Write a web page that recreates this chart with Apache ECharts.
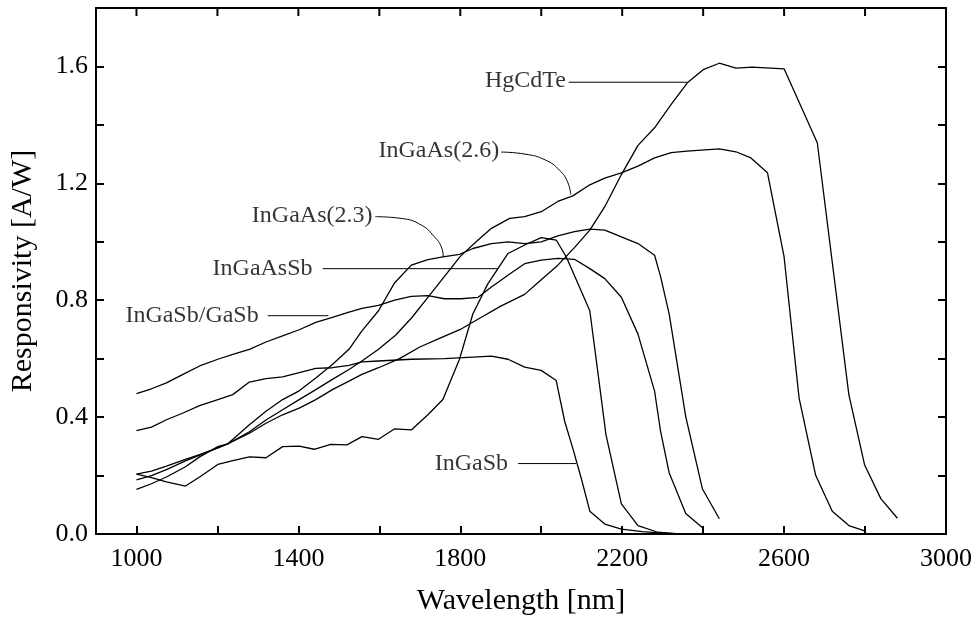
<!DOCTYPE html>
<html>
<head>
<meta charset="utf-8">
<script src="https://cdn.jsdelivr.net/npm/echarts@6/dist/echarts.min.js"></script>
<style>
html,body{margin:0;padding:0;background:#fff;}
#chart{width:976px;height:621px;}
</style>
</head>
<body>
<div id="chart"></div>
<script>
// ---- data (wavelength in nm, responsivity in A/W) ----
const hgcdteX = [1000,1037,1074,1121,1156,1201,1225,1279,1320,1361,1402,1443,1484,1525,1557,1598,1650,1700,1750,1800,1850,1900,1959,2000,2041,2082,2120,2157,2198,2239,2280,2321,2361,2400,2440,2481,2522,2600,2682,2760,2799,2839,2880];
const hgcdteY = [0.205,0.215,0.232,0.255,0.272,0.295,0.308,0.345,0.379,0.408,0.431,0.46,0.494,0.523,0.546,0.569,0.6,0.64,0.67,0.70,0.74,0.78,0.82,0.87,0.92,0.98,1.04,1.12,1.23,1.33,1.39,1.47,1.544,1.589,1.611,1.594,1.598,1.592,1.339,0.477,0.236,0.121,0.054];

const ingaas26X = [1000,1037,1074,1121,1156,1201,1225,1279,1320,1361,1402,1443,1484,1525,1557,1598,1640,1680,1720,1760,1800,1844,1877,1922,1959,2000,2041,2078,2120,2157,2198,2239,2280,2321,2360,2440,2481,2518,2559,2600,2637,2678,2719,2760,2799];
const ingaas26Y = [0.185,0.2,0.22,0.25,0.27,0.295,0.308,0.35,0.39,0.425,0.46,0.494,0.529,0.563,0.592,0.632,0.68,0.74,0.81,0.88,0.95,1.006,1.046,1.08,1.086,1.103,1.138,1.157,1.195,1.218,1.236,1.259,1.287,1.305,1.31,1.318,1.308,1.287,1.236,0.948,0.466,0.201,0.078,0.029,0.011];

const ingaas23X = [1000,1037,1074,1121,1156,1201,1225,1279,1320,1361,1402,1443,1484,1525,1557,1598,1638,1679,1720,1757,1798,1831,1877,1918,1959,2000,2041,2082,2120,2157,2198,2239,2280,2295,2316,2357,2398,2440];
const ingaas23Y = [0.153,0.172,0.195,0.23,0.264,0.299,0.308,0.374,0.42,0.46,0.49,0.534,0.58,0.632,0.695,0.764,0.86,0.92,0.939,0.948,0.957,0.977,0.994,1.0,0.994,1.0,1.02,1.035,1.043,1.04,1.017,0.994,0.954,0.88,0.753,0.402,0.155,0.052];

const ingaassbX = [1000,1037,1074,1121,1156,1201,1238,1279,1320,1361,1402,1439,1480,1520,1557,1598,1638,1679,1720,1757,1798,1831,1868,1918,1959,2000,2037,2062,2120,2140,2160,2198,2239,2288,2340];
const ingaassbY = [0.205,0.193,0.178,0.164,0.195,0.238,0.251,0.264,0.261,0.299,0.301,0.29,0.307,0.305,0.333,0.324,0.36,0.356,0.408,0.46,0.598,0.753,0.856,0.96,0.989,1.014,1.006,0.948,0.764,0.552,0.339,0.103,0.029,0.006,0.0];

const ingasbGasbX = [1000,1037,1074,1115,1156,1201,1238,1279,1320,1361,1402,1443,1484,1525,1557,1598,1638,1679,1720,1761,1802,1844,1877,1922,1959,2000,2041,2082,2120,2157,2198,2239,2280,2295,2316,2357,2400];
const ingasbGasbY = [0.48,0.497,0.517,0.546,0.575,0.598,0.615,0.632,0.657,0.678,0.699,0.724,0.741,0.759,0.772,0.782,0.8,0.813,0.816,0.805,0.805,0.81,0.845,0.89,0.925,0.937,0.943,0.94,0.908,0.874,0.81,0.684,0.489,0.35,0.21,0.07,0.02];

const ingasbX = [1000,1037,1074,1115,1156,1201,1238,1279,1320,1361,1402,1443,1484,1525,1557,1598,1679,1761,1877,1918,1959,2000,2037,2058,2078,2099,2120,2157,2198,2250,2300,2350];
const ingasbY = [0.354,0.366,0.391,0.414,0.439,0.46,0.477,0.52,0.532,0.538,0.552,0.567,0.569,0.577,0.589,0.592,0.598,0.6,0.609,0.598,0.571,0.56,0.525,0.385,0.293,0.19,0.078,0.034,0.017,0.008,0.003,0.0];

// axis ticks / labels
const xTickValues = [1000,1200,1400,1600,1800,2000,2200,2400,2600,2800];
const xLabelValues = [1000,1400,1800,2200,2600,3000];
const yLabelValues = [0.0,0.4,0.8,1.2,1.6];
const yTop = 1.8;

// annotations: label text, text anchor [nm, value], pointer path
const annotations = [
  {name:'HgCdTe', at:[2061,1.552], path:[[2068,1.546],[2361,1.546]]},
  {name:'InGaAs(2.6)', at:[1896,1.31], path:[[1901,1.307],[1960,1.300],[2010,1.280],[2045,1.245],[2065,1.205],[2073,1.161]]},
  {name:'InGaAs(2.3)', at:[1583,1.088], path:[[1590,1.086],[1654,1.080],[1704,1.057],[1736,1.017],[1753,0.983],[1758,0.948]]},
  {name:'InGaAsSb', at:[1435,0.908], path:[[1460,0.908],[1893,0.908]]},
  {name:'InGaSb/GaSb', at:[1302,0.747], path:[[1324,0.747],[1474,0.747]]},
  {name:'InGaSb', at:[1918,0.241], path:[[1943,0.241],[2086,0.241]]}
];

function zip(xs, ys){ return xs.map((x,i)=>[x, ys[i]]); }

const FONT = '"Liberation Serif","Times New Roman",serif';
const chart = echarts.init(document.getElementById('chart'), null, {renderer:'canvas'});

const curveStyle = {color:'#000', width:1.3};
const curves = [
  [hgcdteX,hgcdteY],[ingaas26X,ingaas26Y],[ingaas23X,ingaas23Y],
  [ingaassbX,ingaassbY],[ingasbGasbX,ingasbGasbY],[ingasbX,ingasbY]
].map(([xs,ys])=>({
  type:'line', data:zip(xs,ys), showSymbol:false, symbol:'none',
  lineStyle:curveStyle, itemStyle:{color:'#000'}, animation:false, z:3,
  emphasis:{disabled:true}
}));

const pointerSeries = annotations.map(a=>({
  type:'line', data:a.path, showSymbol:false, symbol:'none', smooth: a.path.length>2 ? 0.5 : false,
  lineStyle:{color:'#000', width:1}, animation:false, z:2, emphasis:{disabled:true}
}));

const labelSeries = {
  type:'scatter', symbolSize:0, animation:false, z:4,
  data: annotations.map(a=>({value:a.at, name:a.name})),
  label:{show:true, position:'left', distance:0, formatter:p=>p.name,
         fontFamily:FONT, fontSize:24, color:'#000'},
  emphasis:{disabled:true}
};

const axisLineStyle = {show:true, onZero:false, lineStyle:{color:'#000', width:2}};
const tickStyle = {show:true, inside:true, length:8, lineStyle:{color:'#000', width:2}};

chart.setOption({
  backgroundColor:'#fff',
  animation:false,
  grid:{left:94, right:30, top:8, bottom:84},
  xAxis:[
    {type:'value', min:900, max:3000, position:'bottom',
     axisLine:axisLineStyle,
     axisTick:Object.assign({customValues:xTickValues}, tickStyle),
     axisLabel:{customValues:xLabelValues, fontFamily:FONT, fontSize:26, color:'#000', margin:12,
                formatter:v=>String(v)},
     splitLine:{show:false},
     name:'Wavelength [nm]', nameLocation:'middle', nameGap:52,
     nameTextStyle:{fontFamily:FONT, fontSize:30, color:'#000'}},
    {type:'value', min:900, max:3000, position:'top',
     axisLine:axisLineStyle, axisTick:{show:false},
     axisLabel:{show:false}, splitLine:{show:false}}
  ],
  yAxis:[
    {type:'value', min:0, max:yTop, interval:0.2, position:'left',
     axisLine:axisLineStyle, axisTick:tickStyle,
     axisLabel:{customValues:yLabelValues, fontFamily:FONT, fontSize:26, color:'#000', margin:8,
                formatter:v=>v.toFixed(1)},
     splitLine:{show:false},
     name:'Responsivity [A/W]', nameLocation:'middle', nameGap:58,
     nameTextStyle:{fontFamily:FONT, fontSize:30, color:'#000'}},
    {type:'value', min:0, max:yTop, interval:0.2, position:'right',
     axisLine:axisLineStyle, axisTick:tickStyle,
     axisLabel:{show:false}, splitLine:{show:false}}
  ],
  series: curves.concat(pointerSeries, [labelSeries])
});

// mirrored tick marks along the top frame, positioned through the x scale
const topTicks = xTickValues.map(v=>{
  const p = chart.convertToPixel({xAxisIndex:0, yAxisIndex:0}, [v, yTop]);
  return {type:'line', silent:true, z:100,
          shape:{x1:p[0], y1:p[1], x2:p[0], y2:p[1]+8},
          style:{stroke:'#000', lineWidth:2}};
});
chart.setOption({graphic:{elements:topTicks}});
</script>
</body>
</html>
